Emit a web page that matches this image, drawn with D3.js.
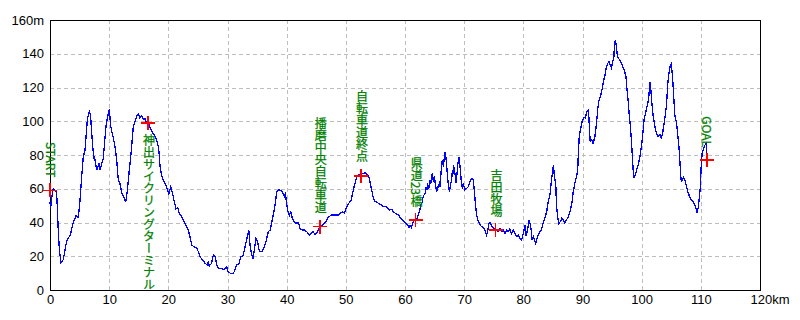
<!DOCTYPE html>
<html>
<head>
<meta charset="utf-8">
<script src="https://cdn.jsdelivr.net/npm/d3@7"></script>
<style>
  body { margin: 0; background: #fff; }
  svg { display: block; }
  .tick text { font-family: "Liberation Sans Narrow", "Liberation Sans", Arial, sans-serif; font-size: 13px; fill: #000; }
  .grid line { stroke: #bdbdbd; stroke-dasharray: 4,3; shape-rendering: crispEdges; }
  .label { font-family: "Noto Sans CJK JP", sans-serif; font-size: 12px; fill: #008000; stroke: #008000; stroke-width: 0.25; writing-mode: vertical-rl; }
</style>
</head>
<body>
<svg id="chart" width="800" height="320"></svg>
<script>
// 距離 (km) と標高 (m)
const distKm = [
  0.0, 0.1, 0.3, 0.56, 0.9, 1.1, 1.24, 1.41, 1.58, 1.86, 2.25, 2.54, 2.82, 3.1, 3.38, 3.66, 3.94, 4.39, 4.79, 5.07,
  5.35, 5.63, 5.92, 6.31, 6.65, 6.84, 7.21, 7.49, 7.6, 7.89, 8.28, 8.45, 9.0, 9.46, 9.86, 10.03, 10.26, 10.7, 10.99, 11.27,
  11.55, 11.83, 12.1, 12.5, 12.8, 13.07, 13.4, 13.7, 14.08, 14.37, 14.65, 14.93, 15.2, 15.5, 15.77, 16.06, 16.34, 16.73, 17.19, 17.75,
  18.03, 18.3, 18.47, 18.6, 18.88, 19.15, 19.6, 20.0, 20.1, 20.4, 20.67, 20.96, 21.3, 21.6, 21.86, 22.25, 22.65, 22.98, 23.37, 23.66,
  23.95, 24.3, 24.8, 25.07, 25.35, 25.8, 26.2, 26.6, 26.76, 26.9, 27.3, 27.6, 27.9, 28.2, 28.45, 29.0, 29.4, 29.86, 30.1, 30.5,
  31.0, 31.27, 31.55, 32.0, 32.2, 32.57, 32.85, 33.1, 33.4, 33.6, 33.8, 34.1, 34.3, 34.5, 34.8, 35.05, 35.4, 35.8, 36.1, 36.5,
  36.9, 37.2, 37.57, 37.9, 38.15, 38.3, 38.6, 39.15, 39.4, 39.6, 39.8, 40.0, 40.2, 40.45, 40.7, 40.95, 41.3, 41.5, 42.0, 42.25,
  42.65, 43.0, 43.4, 43.8, 44.1, 44.5, 44.8, 45.1, 45.35, 45.6, 46.0, 46.5, 46.8, 47.0, 47.3, 47.6, 48.2, 48.7, 49.1, 49.4,
  49.75, 50.15, 50.5, 50.9, 51.15, 51.4, 51.7, 51.8, 52.1, 52.55, 52.95, 53.2, 53.4, 53.7, 53.96, 54.25, 54.5, 54.65, 54.9, 55.2,
  55.5, 56.05, 56.3, 56.9, 57.3, 57.75, 58.0, 58.4, 58.9, 59.3, 59.5, 59.9, 60.1, 60.45, 60.7, 60.85, 61.1, 61.4, 61.7, 62.0,
  62.25, 62.5, 62.7, 62.9, 63.1, 63.4, 63.5, 63.7, 63.8, 64.05, 64.2, 64.4, 64.6, 64.8, 64.95, 65.2, 65.35, 65.5, 65.8, 65.9,
  66.1, 66.3, 66.5, 66.65, 66.8, 67.0, 67.15, 67.3, 67.5, 67.6, 67.8, 67.9, 68.06, 68.2, 68.45, 68.6, 68.8, 68.95, 69.1, 69.3,
  69.5, 69.7, 69.85, 70.1, 70.4, 70.7, 71.0, 71.3, 71.55, 71.7, 71.9, 72.1, 72.4, 72.7, 72.96, 73.2, 73.5, 73.8, 74.0, 74.2,
  74.4, 74.75, 75.1, 75.5, 75.8, 76.05, 76.3, 76.6, 76.9, 77.2, 77.45, 77.7, 78.0, 78.3, 78.6, 78.9, 79.15, 79.4, 79.7, 80.0,
  80.3, 80.45, 80.7, 81.0, 81.3, 81.5, 81.7, 82.1, 82.4, 82.65, 83.0, 83.2, 83.4, 83.7, 83.95, 84.2, 84.5, 84.7, 84.9, 85.1,
  85.2, 85.5, 85.6, 85.8, 86.0, 86.25, 86.5, 86.75, 87.0, 87.3, 87.6, 87.9, 88.2, 88.4, 88.7, 89.0, 89.2, 89.3, 89.45, 89.75,
  90.0, 90.3, 90.5, 90.7, 91.0, 91.1, 91.3, 91.55, 91.8, 92.1, 92.3, 92.6, 92.8, 93.1, 93.35, 93.6, 93.8, 94.0, 94.25, 94.5,
  94.7, 94.9, 95.1, 95.3, 95.4, 95.55, 95.7, 95.9, 96.2, 96.45, 96.7, 97.05, 97.35, 97.5, 97.7, 97.9, 98.1, 98.3, 98.5, 98.65,
  98.9, 99.15, 99.4, 99.7, 100.0, 100.2, 100.4, 100.7, 101.0, 101.2, 101.35, 101.45, 101.7, 101.95, 102.25, 102.5, 102.8, 103.1, 103.3, 103.5,
  103.7, 103.95, 104.2, 104.4, 104.6, 104.8, 105.0, 105.2, 105.4, 105.6, 105.9, 106.1, 106.25, 106.4, 106.5, 106.6, 106.7, 106.9, 107.1, 107.3,
  107.6, 107.8, 108.1, 108.4, 108.7, 109.0, 109.2, 109.3, 109.6, 109.7, 109.9, 110.0, 110.1, 110.25, 110.5, 110.7, 110.9, 111.0
];
const elevM = [
  52, 48, 55, 60, 59, 58, 49, 34, 24, 16, 18, 24, 29, 31, 32, 36, 40, 44, 43, 53,
  67, 79, 83, 101, 106, 104, 85, 77, 77, 71, 75, 71, 78, 97, 105, 107, 97, 90, 85, 77,
  65, 63, 58, 55, 52, 59, 71, 81, 97, 100, 103, 104, 102, 103, 101, 101.5, 99, 98, 94, 91,
  89, 85, 80, 73, 68, 65, 62, 58, 57, 61, 58, 53, 48, 49, 45, 43.5, 40.5, 38.5, 35.5, 31.6,
  26.7, 25.7, 24.7, 22.7, 19.7, 17.8, 15.8, 14.8, 16.8, 14.2, 15.8, 20.7, 20, 14.8, 12.8, 12.8, 11.9, 13.8, 10.8, 9.9,
  9.9, 11.9, 14.8, 15.8, 19.7, 19.7, 23.7, 27.6, 32.6, 35.5, 26.7, 20.7, 18.8, 22.7, 30.6, 29.2, 22.7, 22.7, 24.7, 28.6,
  34.6, 35.5, 41.5, 47.4, 53.3, 58.3, 59.3, 58.9, 57, 55.3, 57, 51, 47, 44, 46.4, 42.5, 40.5, 39.5, 39.9, 36.5,
  35.5, 35.5, 34.6, 32.6, 33.2, 34.6, 32.6, 34, 35.5, 37.5, 38.5, 39.9, 41.5, 43, 43.8, 44.4, 44.4, 44.4, 45.4, 46.4,
  45.8, 49.4, 51.4, 53.3, 57.3, 61.2, 65.2, 67, 68.1, 68.7, 69.1, 69.5, 69.1, 68.1, 66.2, 61.2, 57.3, 54.3, 52.3, 52.3,
  51.4, 50.4, 49.4, 49.4, 47.4, 47.8, 46.4, 45.4, 44.4, 42.5, 41.9, 40.5, 39.5, 38.5, 37, 38.5, 37, 40.5, 41.5, 41.9,
  44.4, 47.4, 50.4, 52.3, 55.7, 57.3, 61.2, 59.3, 63.2, 60.2, 65.2, 63.2, 69.1, 64.2, 67.2, 61.2, 58.3, 60.2, 63.2, 61.2,
  70.1, 77, 73, 79, 82, 76, 69.1, 63.2, 58.3, 60.2, 64.2, 69.1, 67.2, 74, 69.1, 63.2, 69.1, 75, 79, 73,
  65.2, 60.2, 63.2, 59.3, 60.2, 61.2, 64.2, 66.2, 65.2, 59.3, 51.4, 44.4, 40.5, 38.5, 37.5, 37, 35.5, 32.6, 35.5, 39.5,
  39.9, 37.5, 36.5, 35.5, 34.6, 36.5, 34.6, 35.5, 33.6, 35.5, 34.6, 36, 33.6, 35.5, 33.6, 31.6, 32.6, 30.6, 29.6, 33.6,
  38.5, 32, 35.5, 41.5, 36.5, 29.6, 31.6, 27.6, 31.6, 33.6, 35.5, 37.5, 40.5, 43.5, 46.4, 52.3, 56.3, 63.2, 69.1, 74,
  69.1, 61.2, 50.4, 43.5, 39.5, 40.5, 42.5, 41.5, 39.5, 41.5, 43.5, 46.4, 51.4, 57.3, 63.2, 67.2, 72, 81, 90.9, 96.8,
  100.7, 102.3, 101.7, 105.6, 106.7, 100.7, 87.9, 88.9, 86.9, 90.9, 96.8, 107.7, 112.6, 115.6, 119.5, 124.5, 127.4, 131.4, 134.3, 135.3,
  133.3, 131.4, 135.3, 138.3, 145.2, 148.1, 145.2, 138.3, 136.7, 135.3, 133.3, 130.4, 126.4, 119.5, 112.6, 103.7, 96.8, 86.9, 75, 66.2,
  68.1, 71.1, 74, 79, 85.9, 92.8, 100.7, 105.6, 110, 114.5, 120.5, 123.5, 111.6, 102.7, 96.8, 92.8, 90.9, 91.9, 89.9, 91.9,
  96.8, 102.7, 109.6, 121.5, 128.4, 132.3, 133.7, 127.4, 115.6, 103.7, 98.8, 91.9, 87, 80, 74, 68.1, 64.2, 65.2, 66.6, 65.2,
  61.2, 58.3, 55.3, 53.3, 52.3, 50.4, 48.4, 45.4, 49.4, 53.3, 60.2, 68.1, 76, 81.9, 83.9, 85.9, 86.9, 81
];

// 通過ポイント
const pointNames = ['START', '神出サイクリングターミナル', '播磨中央自転車道', '自転車道終点', '県道23橋', '吉田牧場', 'GOAL'];
const pointKm = [0, 16.56, 45.6, 52.55, 61.8, 75.3, 111.0];
const pointM = [59, 99, 37.5, 67.6, 41.5, 35.5, 77];

// 目盛り
const xTicks = [0, 10, 20, 30, 40, 50, 60, 70, 80, 90, 100, 110, 120];
const yTicks = [0, 20, 40, 60, 80, 100, 120, 140, 160];

const svg = d3.select('#chart');

const x = d3.scaleLinear().domain([0, 120]).range([50, 760]);
const y = d3.scaleLinear().domain([0, 160]).range([290, 20]);

// グリッド
const grid = svg.append('g').attr('class', 'grid');
grid.selectAll('.gx')
  .data(xTicks.filter(d => d > 0 && d < 120))
  .enter().append('line')
  .attr('x1', d => Math.round(x(d)) + 0.5).attr('x2', d => Math.round(x(d)) + 0.5)
  .attr('y1', y(160)).attr('y2', y(0));
grid.selectAll('.gy')
  .data(yTicks.filter(d => d > 0 && d < 160))
  .enter().append('line')
  .attr('x1', x(0)).attr('x2', x(120))
  .attr('y1', d => Math.round(y(d)) + 0.5).attr('y2', d => Math.round(y(d)) + 0.5);

// 軸
const yAxis = svg.append('g')
  .attr('transform', 'translate(50,0)')
  .call(d3.axisLeft(y).tickValues(yTicks).tickSize(0).tickPadding(6)
    .tickFormat(d => d === 160 ? '160m' : d));
yAxis.select('.domain').remove();

const xAxis = svg.append('g')
  .attr('transform', 'translate(0,290)')
  .call(d3.axisBottom(x).tickValues(xTicks).tickSize(0).tickPadding(5)
    .tickFormat(d => d === 120 ? '120km' : d));
xAxis.select('.domain').remove();
xAxis.selectAll('.tick text').filter(d => d === 120)
  .attr('text-anchor', 'start').attr('x', -10);

// 枠
svg.append('rect')
  .attr('x', 50.5).attr('y', 20.5)
  .attr('width', 710).attr('height', 270)
  .attr('fill', 'none').attr('stroke', '#000').attr('stroke-width', 1.5)
  .attr('shape-rendering', 'crispEdges');

// 標高プロファイル
const line = d3.line()
  .x((d, i) => x(distKm[i]))
  .y(d => y(d));

svg.append('path')
  .datum(elevM)
  .attr('d', line)
  .attr('fill', 'none')
  .attr('stroke', '#0000ff')
  .attr('stroke-width', 1.3)
  .attr('shape-rendering', 'crispEdges');

// ポイント
const pts = pointNames.map((name, i) => ({ name: name, km: pointKm[i], m: pointM[i] }));

const marks = svg.append('g').attr('shape-rendering', 'crispEdges');
marks.selectAll('.ch')
  .data(pts).enter().append('line')
  .attr('x1', d => x(d.km) - 7).attr('x2', d => x(d.km) + 7)
  .attr('y1', d => y(d.m)).attr('y2', d => y(d.m))
  .attr('stroke', '#ff0000').attr('stroke-width', 1.5);
marks.selectAll('.cv')
  .data(pts).enter().append('line')
  .attr('x1', d => x(d.km)).attr('x2', d => x(d.km))
  .attr('y1', d => y(d.m) - 7).attr('y2', d => y(d.m) + 7)
  .attr('stroke', '#ff0000').attr('stroke-width', 1.5);

// 神出だけ下側に表示
const below = d => d.name.startsWith('神出');

svg.append('g').selectAll('text')
  .data(pts).enter().append('text')
  .attr('class', 'label')
  .attr('x', d => x(d.km) + 1)
  .attr('y', d => below(d) ? y(d.m) + 12 : y(d.m) - 13)
  .attr('text-anchor', d => below(d) ? 'start' : 'end')
  .text(d => d.name);
</script>
</body>
</html>
